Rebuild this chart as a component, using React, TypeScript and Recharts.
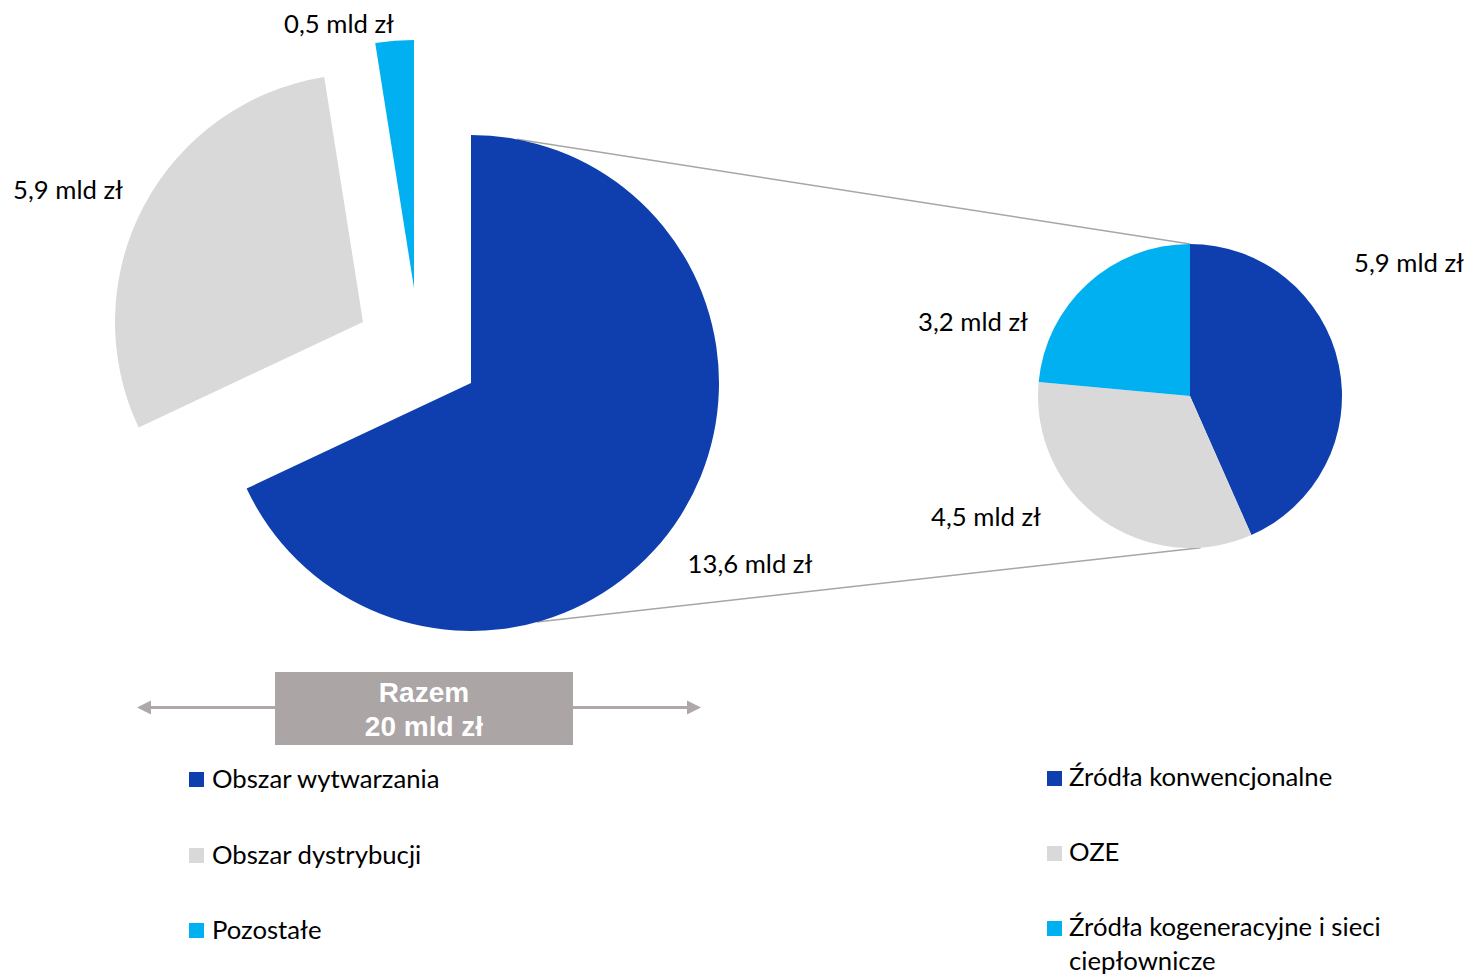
import React from 'react';
import { PieChart, Pie, Cell } from 'recharts';

// ---- data ----
const mainCategories = ['Obszar wytwarzania', 'Obszar dystrybucji', 'Pozostałe'];
const mainValues = [13.6, 5.9, 0.5];
const mainLabels = ['13,6 mld zł', '5,9 mld zł', '0,5 mld zł'];

const subCategories = ['Źródła konwencjonalne', 'OZE', 'Źródła kogeneracyjne i sieci ciepłownicze'];
const subValues = [5.9, 4.5, 3.2];
const subLabels = ['5,9 mld zł', '4,5 mld zł', '3,2 mld zł'];

const totalLines = ['Razem', '20 mld zł'];

// ---- styles / layout ----
const COLORS = ['#0f3fae', '#d9d9d9', '#00b0f0'];
const FONT = 'Lato, "Open Sans", sans-serif';
const FS = 25.7;
const W = 1470;
const H = 977;

const MAIN_R = 248;
// each slice of the main pie is drawn from its own (exploded) centre
const mainCenters = [
  { cx: 471, cy: 383 },
  { cx: 363, cy: 322 },
  { cx: 414, cy: 288 },
];
const mainLabelOffsets = [
  { dx: 279, dy: 180 },
  { dx: -295, dy: -133 },
  { dx: -75, dy: -265 },
];

const SUB = { cx: 1190, cy: 396, r: 152 };
const subLabelOffsets = [
  { dx: 219, dy: -134 },
  { dx: -204, dy: 120 },
  { dx: -217, dy: -75 },
];

const mainData = mainCategories.map((name, i) => ({ name, value: mainValues[i] }));
const subData = subCategories.map((name, i) => ({ name, value: subValues[i] }));

const polar = (cx: number, cy: number, r: number, deg: number) => ({
  x: cx + r * Math.cos((deg * Math.PI) / 180),
  y: cy - r * Math.sin((deg * Math.PI) / 180),
});

const labelText = (x: number, y: number, t: string) => (
  <text
    x={x}
    y={y}
    textAnchor="middle"
    dominantBaseline="central"
    fontFamily={FONT}
    fontSize={FS}
    fill="#000"
  >
    {t}
  </text>
);

export default function App() {
  const topA = polar(mainCenters[0].cx, mainCenters[0].cy, MAIN_R, 79.3);
  const topB = polar(SUB.cx, SUB.cy, SUB.r, 90);
  const botA = polar(mainCenters[0].cx, mainCenters[0].cy, MAIN_R, -74.6);
  const botB = polar(SUB.cx, SUB.cy, SUB.r, -86);

  return (
    <div style={{ position: 'absolute', left: 0, top: 0, width: W, height: H, background: '#fff', fontFamily: FONT }}>
      <svg width={W} height={H} style={{ position: 'absolute', left: 0, top: 0 }}>
        <line x1={topA.x} y1={topA.y} x2={topB.x} y2={topB.y} stroke="#a6a6a6" strokeWidth={1.5} />
        <line x1={botA.x} y1={botA.y} x2={botB.x} y2={botB.y} stroke="#a6a6a6" strokeWidth={1.5} />
        {/* total arrow */}
        <line x1={146} y1={707.5} x2={692} y2={707.5} stroke="#aea8a9" strokeWidth={3} />
        <polygon points="137,707.5 151,700.5 151,714.5" fill="#aea8a9" />
        <polygon points="701,707.5 687,700.5 687,714.5" fill="#aea8a9" />
      </svg>
      <div style={{ position: 'absolute', left: 0, top: 0 }}>
        <PieChart width={W} height={H} margin={{ top: 0, right: 0, bottom: 0, left: 0 }}>
          {mainCenters.map((c, i) => (
            <Pie
              key={`main-${i}`}
              data={mainData}
              dataKey="value"
              nameKey="name"
              cx={c.cx}
              cy={c.cy}
              innerRadius={0}
              outerRadius={MAIN_R}
              startAngle={90}
              endAngle={-270}
              stroke="none"
              isAnimationActive={false}
              labelLine={false}
              label={(p: any) =>
                p.index === i
                  ? labelText(c.cx + mainLabelOffsets[i].dx, c.cy + mainLabelOffsets[i].dy, mainLabels[i])
                  : null
              }
            >
              {mainData.map((_, j) => (
                <Cell key={j} fill={j === i ? COLORS[j] : 'transparent'} stroke="none" />
              ))}
            </Pie>
          ))}
          <Pie
            data={subData}
            dataKey="value"
            nameKey="name"
            cx={SUB.cx}
            cy={SUB.cy}
            innerRadius={0}
            outerRadius={SUB.r}
            startAngle={90}
            endAngle={-270}
            stroke="none"
            isAnimationActive={false}
            labelLine={false}
            label={(p: any) =>
              labelText(SUB.cx + subLabelOffsets[p.index].dx, SUB.cy + subLabelOffsets[p.index].dy, subLabels[p.index])
            }
          >
            {subData.map((_, j) => (
              <Cell key={j} fill={COLORS[j]} stroke="none" />
            ))}
          </Pie>
        </PieChart>
      </div>

      {/* total box */}
      <div
        style={{
          position: 'absolute',
          left: 275,
          top: 672,
          width: 298,
          height: 73,
          background: '#aba5a6',
          color: '#fff',
          fontFamily: '"Liberation Sans", Arial, sans-serif',
          fontWeight: 'bold',
          fontSize: 28,
          lineHeight: '34px',
          textAlign: 'center',
          paddingTop: 4,
          boxSizing: 'border-box',
        }}
      >
        {totalLines.map((t) => (
          <div key={t}>{t}</div>
        ))}
      </div>

      {/* legends */}
      {mainCategories.map((name, i) => (
        <div
          key={name}
          style={{
            position: 'absolute',
            left: 189,
            top: [780, 856, 931][i] - 19,
            height: 34,
            display: 'flex',
            alignItems: 'center',
            fontFamily: FONT,
            fontSize: FS,
            color: '#000',
          }}
        >
          <div style={{ width: 15, height: 15, background: COLORS[i], marginRight: 8, marginTop: 3 }} />
          <span>{name}</span>
        </div>
      ))}
      {subCategories.map((name, i) => (
        <div
          key={name}
          style={{
            position: 'absolute',
            left: 1047,
            top: [778, 853, 928][i] - 19,
            display: 'flex',
            alignItems: 'flex-start',
            fontFamily: FONT,
            fontSize: FS,
            lineHeight: '34px',
            color: '#000',
          }}
        >
          <div style={{ width: 15, height: 15, background: COLORS[i], marginRight: 7, marginTop: 12, flexShrink: 0 }} />
          <span style={{ width: 360 }}>{name}</span>
        </div>
      ))}
    </div>
  );
}
